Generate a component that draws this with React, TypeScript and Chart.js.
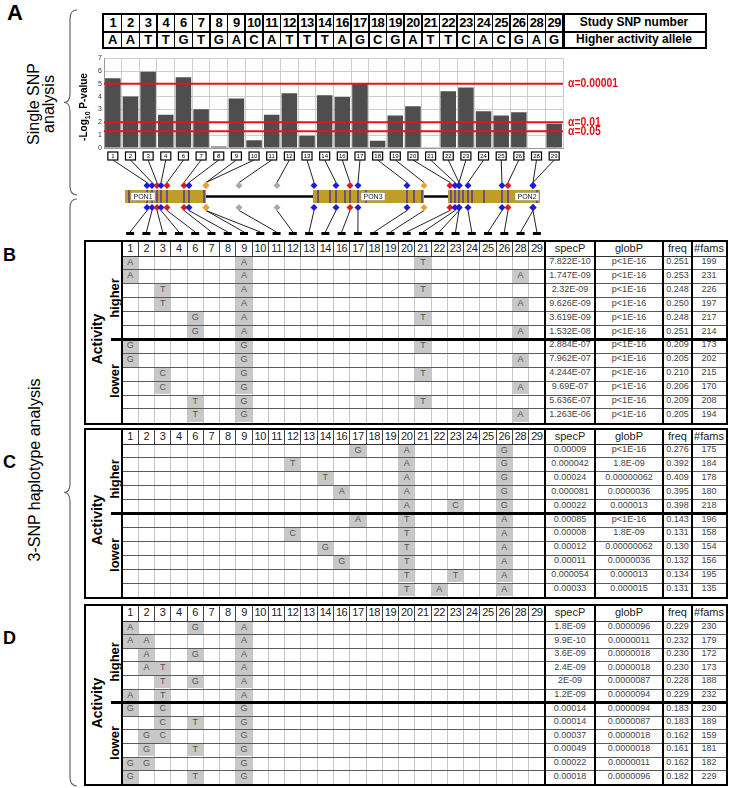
import React, { useEffect, useRef } from "react";
import { Chart, registerables } from "chart.js";
Chart.register(...registerables);

// ---------------- DATA ----------------
const snpNumbers = ["1","2","3","4","6","7","8","9","10","11","12","13","14","16","17","18","19","20","21","22","23","24","25","26","28","29"];
const higherAlleles = ["A","A","T","T","G","T","G","A","C","A","T","T","T","A","G","C","G","A","T","T","C","A","C","G","A","G"];
const negLog10P = [5.43,4.01,5.94,2.59,5.51,3.02,0.12,3.86,0.61,2.59,4.26,0.96,4.11,3.98,5.03,0.56,2.54,3.25,0.05,4.42,4.72,2.87,2.54,2.79,0.03,1.9];
const yTickValues = [0,1,2,3,4,5,6,7];
const alphaLevels = [0.00001, 0.01, 0.05];
const alphaLabels = ["\u03b1=0.00001", "\u03b1=0.01", "\u03b1=0.05"];

// gene structure (schematic genomic position of each SNP, and its class)
const snpGenePos = [147,152,157,161,167,184,189,206,206,239,277,314,336,350,358,407,424,450,455,459,459,468,502,508,533,533];
const snpClass = ["b","b","r","b","r","r","b","o","o","g","g","b","b","r","b","b","o","r","b","b","b","b","b","r","b","b"];
const geneNames = ["PON1","PON3","PON2"];
const geneStart = [125,313,448];
const geneEnd = [206,424,540];
const geneLabelPos = [143,373,527];
const exonPos = [129,147,152,157,161,167,184,189,204,318,330,336,345,350,358,366,407,414,422,451,455,459,463,468,472,484,502,508,537];

// haplotype tables
const dataColumns = ["specP","globP","freq","#fams"];

const tableBAlleles = [
  [["1","A"],["9","A"],["21","T"]],
  [["1","A"],["9","A"],["28","A"]],
  [["3","T"],["9","A"],["21","T"]],
  [["3","T"],["9","A"],["28","A"]],
  [["6","G"],["9","A"],["21","T"]],
  [["6","G"],["9","A"],["28","A"]],
  [["1","G"],["9","G"],["21","T"]],
  [["1","G"],["9","G"],["28","A"]],
  [["3","C"],["9","G"],["21","T"]],
  [["3","C"],["9","G"],["28","A"]],
  [["6","T"],["9","G"],["21","T"]],
  [["6","T"],["9","G"],["28","A"]],
];
const tableBSpecP = ["7.822E-10","1.747E-09","2.32E-09","9.626E-09","3.619E-09","1.532E-08","2.884E-07","7.962E-07","4.244E-07","9.69E-07","5.636E-07","1.263E-06"];
const tableBGlobP = ["p<1E-16","p<1E-16","p<1E-16","p<1E-16","p<1E-16","p<1E-16","p<1E-16","p<1E-16","p<1E-16","p<1E-16","p<1E-16","p<1E-16"];
const tableBFreq = ["0.251","0.253","0.248","0.250","0.248","0.251","0.209","0.205","0.210","0.206","0.209","0.205"];
const tableBFams = ["199","231","226","197","217","214","173","202","215","170","208","194"];

const tableCAlleles = [
  [["17","G"],["20","A"],["26","G"]],
  [["12","T"],["20","A"],["26","G"]],
  [["14","T"],["20","A"],["26","G"]],
  [["16","A"],["20","A"],["26","G"]],
  [["20","A"],["23","C"],["26","G"]],
  [["17","A"],["20","T"],["26","A"]],
  [["12","C"],["20","T"],["26","A"]],
  [["14","G"],["20","T"],["26","A"]],
  [["16","G"],["20","T"],["26","A"]],
  [["20","T"],["23","T"],["26","A"]],
  [["20","T"],["22","A"],["26","A"]],
];
const tableCSpecP = ["0.00009","0.000042","0.00024","0.000081","0.00022","0.00085","0.00008","0.00012","0.00011","0.000054","0.00033"];
const tableCGlobP = ["p<1E-16","1.8E-09","0.00000062","0.0000036","0.000013","p<1E-16","1.8E-09","0.00000062","0.0000036","0.000013","0.000015"];
const tableCFreq = ["0.276","0.392","0.409","0.395","0.398","0.143","0.131","0.130","0.132","0.134","0.131"];
const tableCFams = ["175","184","178","180","218","196","158","154","156","195","135"];

const tableDAlleles = [
  [["1","A"],["6","G"],["9","A"]],
  [["1","A"],["2","A"],["9","A"]],
  [["2","A"],["6","G"],["9","A"]],
  [["2","A"],["3","T"],["9","A"]],
  [["3","T"],["6","G"],["9","A"]],
  [["1","A"],["3","T"],["9","A"]],
  [["1","G"],["3","C"],["9","G"]],
  [["3","C"],["6","T"],["9","G"]],
  [["2","G"],["3","C"],["9","G"]],
  [["2","G"],["6","T"],["9","G"]],
  [["1","G"],["2","G"],["9","G"]],
  [["1","G"],["6","T"],["9","G"]],
];
const tableDSpecP = ["1.8E-09","9.9E-10","3.6E-09","2.4E-09","2E-09","1.2E-09","0.00014","0.00014","0.00037","0.00049","0.00022","0.00018"];
const tableDGlobP = ["0.0000096","0.0000011","0.0000018","0.0000018","0.0000087","0.0000094","0.0000094","0.0000087","0.0000018","0.0000018","0.0000011","0.0000096"];
const tableDFreq = ["0.229","0.232","0.230","0.230","0.228","0.229","0.183","0.183","0.162","0.161","0.162","0.182"];
const tableDFams = ["230","179","172","173","188","232","230","189","159","181","182","229"];

// ---------------- LAYOUT ----------------
const FONT = "Arial, 'Liberation Sans', sans-serif";
const A_X0 = 104, A_X1 = 563, A_END = 705;
const A_CW = (A_X1 - A_X0) / snpNumbers.length;
const T_X0 = 84, T_LBL = 122, T_SNP1 = 545, T_SPEC = 595, T_GLOB = 663, T_FREQ = 692, T_X1 = 726;
const T_CW = (T_SNP1 - T_LBL) / snpNumbers.length;
const CLASS_COLOR: Record<string, string> = { b: "#1a1ae6", r: "#e01818", o: "#f0a030", g: "#a8a8a8" };

function RotText({ cx, cy, children, style }: any) {
  return (
    <div style={{ position: "absolute", left: cx, top: cy, transform: "translate(-50%,-50%) rotate(-90deg)", whiteSpace: "nowrap", fontFamily: FONT, ...style }}>
      {children}
    </div>
  );
}

function BarChart() {
  const ref = useRef<HTMLCanvasElement>(null);
  useEffect(() => {
    const overlay = {
      id: "overlay",
      afterDatasetsDraw(chart: any) {
        const { ctx, chartArea, scales } = chart;
        ctx.save();
        alphaLevels.forEach((a, k) => {
          const y = scales.y.getPixelForValue(-Math.log10(a));
          ctx.strokeStyle = "#e3141c";
          ctx.lineWidth = 2;
          ctx.beginPath();
          ctx.moveTo(chartArea.left, y);
          ctx.lineTo(chartArea.right, y);
          ctx.stroke();
          ctx.save();
          ctx.fillStyle = "#e3141c";
          ctx.font = "bold 13px Arial, sans-serif";
          ctx.textBaseline = "middle";
          ctx.textAlign = "left";
          ctx.translate(chartArea.right + 5, y);
          ctx.scale(0.8, 1);
          ctx.fillText(alphaLabels[k], 0, 0);
          ctx.restore();
        });
        // boxed SNP numbers under each bar
        ctx.font = "6px Arial, sans-serif";
        ctx.textAlign = "center";
        ctx.textBaseline = "middle";
        snpNumbers.forEach((s, i) => {
          const x = scales.x.getPixelForValue(i);
          const w = 10;
          const top = chartArea.bottom + 4;
          ctx.fillStyle = "#fff";
          ctx.fillRect(x - w / 2, top, w, 8);
          ctx.strokeStyle = "#000";
          ctx.lineWidth = 1.2;
          ctx.strokeRect(x - w / 2, top, w, 8);
          ctx.fillStyle = "#000";
          ctx.fillText(s, x, top + 4.5);
        });
        ctx.restore();
      },
    };
    const chart = new Chart(ref.current as HTMLCanvasElement, {
      type: "bar",
      data: {
        labels: snpNumbers,
        datasets: [{ data: negLog10P, backgroundColor: "#4e4e4e", barPercentage: 0.88, categoryPercentage: 1 }],
      },
      options: {
        animation: false,
        responsive: false,
        maintainAspectRatio: false,
        layout: { padding: { top: 5, right: 81, left: 0, bottom: 0 } },
        plugins: { legend: { display: false }, tooltip: { enabled: false } },
        scales: {
          x: {
            grid: { color: "#cdcdcd", offset: true, drawTicks: false },
            border: { color: "#999" },
            ticks: { display: false },
            afterFit: (s: any) => { s.height = 16; },
          },
          y: {
            min: 0,
            max: 7,
            afterBuildTicks: (s: any) => { s.ticks = yTickValues.map((v) => ({ value: v })); },
            ticks: { font: { size: 7, family: FONT }, color: "#333", padding: 2 },
            grid: { color: "#cdcdcd", drawTicks: false },
            border: { color: "#999" },
            afterFit: (s: any) => { s.width = 20; },
          },
        },
      },
      plugins: [overlay],
    } as any);
    return () => chart.destroy();
  }, []);
  return <canvas ref={ref} width={560} height={112} style={{ position: "absolute", left: 84, top: 52, width: 560, height: 112 }} />;
}

function HeaderTableA() {
  const els: any[] = [];
  const top = 13, mid = 31, bottom = 49;
  els.push(<div key="box" style={{ position: "absolute", left: A_X0 - 2, top: top, width: A_END - A_X0 + 4, height: bottom - top, border: "2.5px solid #000", boxSizing: "border-box" }} />);
  els.push(<div key="mid" style={{ position: "absolute", left: A_X0, top: mid, width: A_END - A_X0, height: 1.5, background: "#000" }} />);
  for (let i = 1; i <= snpNumbers.length; i++) {
    const x = A_X0 + i * A_CW;
    els.push(<div key={"v" + i} style={{ position: "absolute", left: x - 0.75, top: top, width: i === snpNumbers.length ? 2.5 : 1.5, height: bottom - top, background: "#000" }} />);
  }
  snpNumbers.forEach((s, i) => {
    const cx = A_X0 + (i + 0.5) * A_CW;
    els.push(<div key={"n" + i} style={{ position: "absolute", left: cx - 10, width: 20, top: top + 2, height: mid - top - 2, lineHeight: `${mid - top - 2}px`, textAlign: "center", font: `bold 13px ${FONT}`, letterSpacing: -0.5 }}>{s}</div>);
    els.push(<div key={"a" + i} style={{ position: "absolute", left: cx - 10, width: 20, top: mid + 1, height: bottom - mid - 3, lineHeight: `${bottom - mid - 3}px`, textAlign: "center", font: `bold 13px ${FONT}` }}>{higherAlleles[i]}</div>);
  });
  els.push(<div key="t1" style={{ position: "absolute", left: A_X1, width: A_END - A_X1, top: top + 2, height: mid - top - 2, lineHeight: `${mid - top - 2}px`, textAlign: "center", font: `bold 12px ${FONT}` }}>Study SNP number</div>);
  els.push(<div key="t2" style={{ position: "absolute", left: A_X1, width: A_END - A_X1, top: mid + 1, height: bottom - mid - 3, lineHeight: `${bottom - mid - 3}px`, textAlign: "center", font: `bold 12px ${FONT}` }}>Higher activity allele</div>);
  return <>{els}</>;
}

function GeneDiagram() {
  const tickY = 160, upY = 185.5, barTop = 190, barBot = 203, lowY = 207.5, dashY = 232;
  const diamond = (x: number, y: number, c: string, k: string) => (
    <polygon key={k} points={`${x},${y - 3.5} ${x + 3.5},${y} ${x},${y + 3.5} ${x - 3.5},${y}`} fill={c} />
  );
  const els: any[] = [];
  snpNumbers.forEach((s, i) => {
    const ax = A_X0 + (i + 0.5) * A_CW;
    const gx = snpGenePos[i];
    const tx = T_LBL + (i + 0.5) * T_CW;
    els.push(<line key={"lu" + i} x1={ax} y1={tickY} x2={gx} y2={upY - 3} stroke="#222" strokeWidth={1} />);
    els.push(<line key={"ll" + i} x1={gx} y1={lowY + 3} x2={tx} y2={dashY} stroke="#222" strokeWidth={1} />);
    els.push(<rect key={"d" + i} x={tx - 4} y={dashY} width={8} height={3} fill="#000" />);
  });
  els.push(<line key="bb1" x1={geneEnd[0]} y1={196.5} x2={geneStart[1]} y2={196.5} stroke="#000" strokeWidth={2.5} />);
  els.push(<line key="bb2" x1={geneEnd[1]} y1={196.5} x2={geneStart[2]} y2={196.5} stroke="#000" strokeWidth={2.5} />);
  geneNames.forEach((g, k) => {
    els.push(<rect key={"g" + k} x={geneStart[k]} y={barTop} width={geneEnd[k] - geneStart[k]} height={barBot - barTop} fill="#bf9d28" />);
  });
  exonPos.forEach((x, k) => {
    els.push(<rect key={"e" + k} x={x - 0.8} y={barTop} width={1.6} height={barBot - barTop} fill="#5b3f8c" />);
  });
  geneNames.forEach((g, k) => {
    els.push(<rect key={"lb" + k} x={geneLabelPos[k] - 12} y={192.5} width={24} height={8} fill="#fff" stroke="#888" strokeWidth={0.5} />);
    els.push(<text key={"lt" + k} x={geneLabelPos[k]} y={199.3} fontSize={7} fontFamily={FONT} textAnchor="middle" fill="#222">{g}</text>);
  });
  snpNumbers.forEach((s, i) => {
    const gx = snpGenePos[i];
    const c = CLASS_COLOR[snpClass[i]];
    els.push(diamond(gx, upY, c, "du" + i));
    els.push(diamond(gx, lowY, c, "dl" + i));
  });
  return (
    <svg width={729} height={240} style={{ position: "absolute", left: 0, top: 0 }}>
      {els}
    </svg>
  );
}

function Brace({ x, y0, y1 }: any) {
  const ym = (y0 + y1) / 2;
  const xr = x + 7, xm = x, xl = x - 6, r = 9;
  const d = `M ${xr} ${y0} Q ${xm} ${y0} ${xm} ${y0 + r} L ${xm} ${ym - r} Q ${xm} ${ym} ${xl} ${ym} Q ${xm} ${ym} ${xm} ${ym + r} L ${xm} ${y1 - r} Q ${xm} ${y1} ${xr} ${y1}`;
  return <path d={d} fill="none" stroke="#666" strokeWidth={1.2} />;
}

function HapTable({ top, headerH, rowH, nHigher, alleles, specP, globP, freq, fams }: any) {
  const nRows = specP.length;
  const bodyTop = top + headerH;
  const bottom = bodyTop + nRows * rowH;
  const els: any[] = [];
  const abs = (k: string, st: any, child?: any) => els.push(<div key={k} style={{ position: "absolute", ...st }}>{child}</div>);

  snpNumbers.forEach((s, i) => {
    const x = T_LBL + i * T_CW;
    abs("hn" + i, { left: x, width: T_CW, top: top + 2, height: headerH - 2, lineHeight: `${headerH - 2}px`, textAlign: "center", font: `11px ${FONT}`, color: "#222", letterSpacing: -0.4 }, s);
    if (i > 0) {
      abs("hv" + i, { left: x - 0.5, width: 1, top: top, height: headerH, background: "#444" });
      abs("bv" + i, { left: x - 0.5, width: 1, top: bodyTop, height: bottom - bodyTop, background: "#c6c6c6" });
    }
  });
  const dcols = [[T_SNP1, T_SPEC], [T_SPEC, T_GLOB], [T_GLOB, T_FREQ], [T_FREQ, T_X1]];
  dataColumns.forEach((h, k) => {
    abs("dh" + k, { left: dcols[k][0], width: dcols[k][1] - dcols[k][0], top: top + 2, height: headerH - 2, lineHeight: `${headerH - 2}px`, textAlign: "center", font: `11px ${FONT}`, color: "#222" }, h);
  });
  abs("hb", { left: T_LBL, width: T_X1 - T_LBL, top: bodyTop - 0.5, height: 1, background: "#333" });
  for (let r = 1; r < nRows; r++) {
    if (r === nHigher) continue;
    abs("rl" + r, { left: T_LBL, width: T_X1 - T_LBL, top: bodyTop + r * rowH - 0.5, height: 1, background: "#5a5a5a" });
  }
  alleles.forEach((row: any, r: number) => {
    row.forEach(([snp, al]: any, j: number) => {
      const i = snpNumbers.indexOf(snp);
      const x = T_LBL + i * T_CW;
      abs(`c${r}_${j}`, { left: x + 0.5, width: T_CW - 1, top: bodyTop + r * rowH + 0.5, height: rowH - 1, background: "#c8c8c8", textAlign: "center", lineHeight: `${rowH - 1}px`, font: `9px ${FONT}`, color: "#555" }, al);
    });
  });
  const vals = [specP, globP, freq, fams];
  vals.forEach((arr: string[], k: number) => {
    arr.forEach((v, r) => {
      abs(`v${k}_${r}`, { left: dcols[k][0], width: dcols[k][1] - dcols[k][0], top: bodyTop + r * rowH, height: rowH, lineHeight: `${rowH}px`, textAlign: "center", font: `9px ${FONT}`, color: "#444" }, v);
    });
  });
  [T_LBL, T_SNP1, T_SPEC, T_GLOB, T_FREQ].forEach((x, k) => {
    abs("tv" + k, { left: x - 1, width: 2, top: top, height: bottom - top, background: "#000" });
  });
  abs("sep", { left: 111, width: T_X1 - 111, top: bodyTop + nHigher * rowH - 1.5, height: 3, background: "#000" });
  abs("box", { left: T_X0, top: top, width: T_X1 - T_X0 + 2, height: bottom - top + 2, border: "2px solid #000", boxSizing: "border-box" });
  const midAll = (bodyTop + bottom) / 2;
  els.push(<RotText key="act" cx={97} cy={midAll} style={{ font: `bold 14px ${FONT}` }}>Activity</RotText>);
  els.push(<RotText key="hi" cx={114} cy={bodyTop + (nHigher * rowH) / 2} style={{ font: `bold 13px ${FONT}` }}>higher</RotText>);
  els.push(<RotText key="lo" cx={114} cy={bodyTop + nHigher * rowH + ((nRows - nHigher) * rowH) / 2} style={{ font: `bold 13px ${FONT}` }}>lower</RotText>);
  return <>{els}</>;
}

export default function App() {
  return (
    <div style={{ position: "absolute", left: 0, top: 0, width: 729, height: 788, background: "#fff", overflow: "hidden", fontFamily: FONT }}>
      <svg width={729} height={788} style={{ position: "absolute", left: 0, top: 0 }}>
        <Brace x={70} y0={10} y1={195} />
        <Brace x={70} y0={199} y1={786} />
      </svg>
      <div style={{ position: "absolute", left: 7, top: 0, font: `bold 22px ${FONT}` }}>A</div>
      <div style={{ position: "absolute", left: 3, top: 245, font: `bold 18px ${FONT}` }}>B</div>
      <div style={{ position: "absolute", left: 3, top: 452, font: `bold 18px ${FONT}` }}>C</div>
      <div style={{ position: "absolute", left: 3, top: 628, font: `bold 18px ${FONT}` }}>D</div>
      <RotText cx={41} cy={104} style={{ font: `16px ${FONT}`, textAlign: "center", lineHeight: "15px" }}>Single SNP<br />analysis</RotText>
      <RotText cx={35} cy={470} style={{ font: `16px ${FONT}` }}>3-SNP haplotype analysis</RotText>
      <HeaderTableA />
      <BarChart />
      <RotText cx={84} cy={107} style={{ font: `bold 10px ${FONT}` }}>-Log<sub style={{ fontSize: 7 }}>10</sub> P-value</RotText>
      <GeneDiagram />
      <HapTable top={240} headerH={16} rowH={13.9} nHigher={6} alleles={tableBAlleles} specP={tableBSpecP} globP={tableBGlobP} freq={tableBFreq} fams={tableBFams} />
      <HapTable top={428} headerH={16} rowH={13.9} nHigher={5} alleles={tableCAlleles} specP={tableCSpecP} globP={tableCGlobP} freq={tableCFreq} fams={tableCFams} />
      <HapTable top={604} headerH={17} rowH={13.6} nHigher={6} alleles={tableDAlleles} specP={tableDSpecP} globP={tableDGlobP} freq={tableDFreq} fams={tableDFams} />
    </div>
  );
}
